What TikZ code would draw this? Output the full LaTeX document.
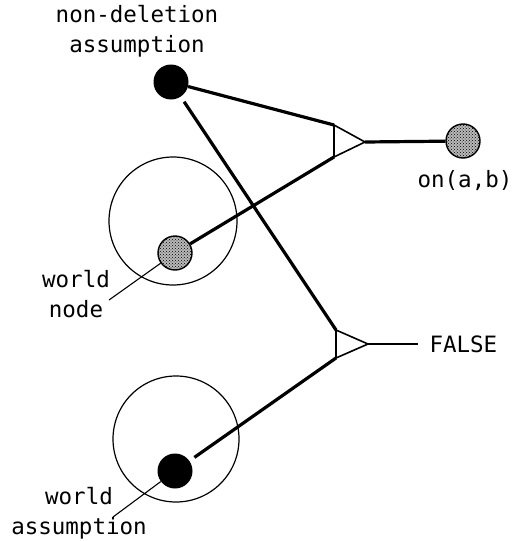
\documentclass[tikz,border=0pt]{standalone}
\usepackage{fontspec}
\setmonofont{DejaVu Sans Mono}
\usetikzlibrary{positioning, patterns}
\tikzset{
x=1pt, y=-1pt, % one unit is one pixel of the sketch, y runs down
every node/.style={font=\ttfamily\fontsize{22.5}{30}\selectfont}, % typewriter labels
solid dot/.style={circle, fill=black, minimum size=35pt, inner sep=0pt}, % black assumption node
hatch dot/.style={circle, draw, line width=1.4pt, preaction={fill=gray!55}, pattern=crosshatch dots, minimum size=34pt, inner sep=0pt}, % hatched node
world/.style={draw, line width=1.2pt}, % the circle round a world
link/.style={line width=3.2pt}, % heavy justification line
gate/.style={line width=1.6pt}, % the and gate triangle
}

\begin{document}
\begin{tikzpicture}
  \useasboundingbox (0,0) rectangle (514,541);
  % worlds
  \draw[world] (173,221) circle (64);
  \draw[world] (176,439) circle (63);
  % nodes
  \node[solid dot] (nd) at (171,82) {};
  \node[hatch dot] (wn) at (175,253) {};
  \node[solid dot] (wa) at (175,471) {};
  \node[hatch dot] (on) at (463,141) {};
  % gates
  \coordinate (g1a) at (334,125);
  \coordinate (g1b) at (334,157);
  \coordinate (g1) at (365,142);
  \coordinate (g2a) at (336,330);
  \coordinate (g2b) at (336,358);
  \coordinate (g2) at (368,344);
  \draw[gate] (g1a) -- (g1b) -- (g1) -- cycle;
  \draw[gate] (g2a) -- (g2b) -- (g2) -- cycle;
  % labels
  \node[align=center] (ndlabel) at (137,31) {non-deletion\\assumption};
  \node[below=8pt of on, xshift=2pt] (onlabel) {on(a,b)};
  \node[anchor=west] (false) at (426,344) {FALSE};
  \node[align=center] (wnlabel) at (76,294) {world\\node};
  \node[align=center] (walabel) at (79,513) {world\\assumption};
  \coordinate (wnlead) at (109,300);
  \coordinate (walead) at (113,517);
  % connections
  \draw[link] (nd) -- (g1a);
  \draw[link] (wn) -- (g1b);
  \draw[link] (g1) -- (on);
  \draw[link, shorten <=6pt] (nd) -- (g2a);
  \draw[link, shorten <=6pt] (wa) -- (g2b);
  \draw[line width=2pt, shorten >=8pt] (g2) -- (false.west);
  \draw[line width=1.1pt] (wnlead) -- (wn);
  \draw[line width=1.1pt] (walead) -- (wa);
\end{tikzpicture}
\end{document}
